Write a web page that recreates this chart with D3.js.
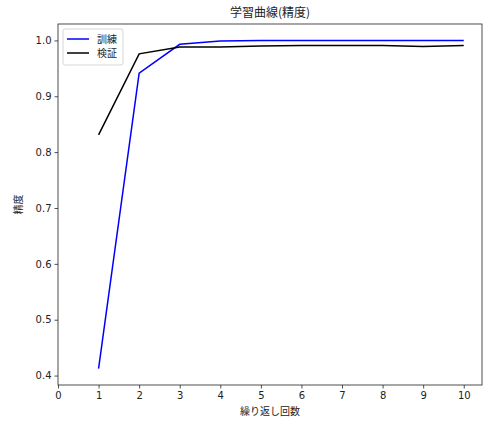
<!DOCTYPE html>
<html><head><meta charset="utf-8">
<script src="https://cdn.jsdelivr.net/npm/d3@7"></script>
<style>body{margin:0;background:#fff}</style>
</head><body>
<svg id="c" width="490" height="423"></svg>
<script>
const epochs = [1,2,3,4,5,6,7,8,9,10];
const trainAcc = [0.4125,0.9415,0.993,0.999,1.0,1.0,1.0,1.0,1.0,1.0];
const valAcc = [0.831,0.976,0.988,0.988,0.990,0.991,0.991,0.991,0.989,0.991];
const xTicks = [0,1,2,3,4,5,6,7,8,9,10];
const yTicks = [0.4,0.5,0.6,0.7,0.8,0.9,1.0];
const seriesNames = ["訓練","検証"];
const seriesColors = ["#0000ff","#000000"];

const svg = d3.select("#c");
const L=58, R=482, T=24, B=385;
const x = d3.scaleLinear().domain([0,10.45]).range([L,R]);
const ymin = 0.4125, ymax = 1.0, pad=(ymax-ymin)*0.05;
const y = d3.scaleLinear().domain([ymin-pad, ymax+pad]).range([B,T]);
const cjk = "'Noto Sans CJK JP', sans-serif";
const tickFont = "'DejaVu Sans', sans-serif";

const xa = svg.append("g").attr("transform",`translate(0,${B})`)
  .call(d3.axisBottom(x).tickValues(xTicks).tickFormat(d3.format("d")).tickSize(3.5).tickPadding(3));
const ya = svg.append("g").attr("transform",`translate(${L},0)`)
  .call(d3.axisLeft(y).tickValues(yTicks).tickFormat(d3.format(".1f")).tickSize(3.5).tickPadding(3));
[xa,ya].forEach(a=>{
  a.select(".domain").remove();
  a.selectAll("text").attr("font-family",tickFont).attr("font-size",10).attr("fill","#222");
  a.selectAll("line").attr("stroke","#222").attr("stroke-width",0.8);
});

const line = d3.line().x((d,i)=>x(epochs[i])).y(d=>y(d));
[trainAcc,valAcc].forEach((s,k)=>{
  svg.append("path").datum(s).attr("d",line).attr("fill","none")
    .attr("stroke",seriesColors[k]).attr("stroke-width",1.5);
});

svg.append("rect").attr("x",L).attr("y",T).attr("width",R-L).attr("height",B-T)
  .attr("fill","none").attr("stroke","#222").attr("stroke-width",0.8);

svg.append("text").attr("x",(L+R)/2).attr("y",T-7).attr("text-anchor","middle")
  .attr("font-family",cjk).attr("font-size",12).attr("fill","#222").text("学習曲線(精度)");
svg.append("text").attr("x",(L+R)/2).attr("y",415).attr("text-anchor","middle")
  .attr("font-family",cjk).attr("font-size",10).attr("fill","#222").text("繰り返し回数");
svg.append("text").attr("transform",`translate(22,${(T+B)/2}) rotate(-90)`).attr("text-anchor","middle")
  .attr("font-family",cjk).attr("font-size",10).attr("fill","#222").text("精度");

const lg = svg.append("g");
lg.append("rect").attr("x",63).attr("y",29).attr("width",60).attr("height",36).attr("rx",2)
  .attr("fill","#fff").attr("fill-opacity",0.8).attr("stroke","#ccc").attr("stroke-width",0.8);
seriesNames.forEach((n,k)=>{
  const yy = 39 + k*14;
  lg.append("line").attr("x1",67).attr("x2",89).attr("y1",yy).attr("y2",yy)
    .attr("stroke",seriesColors[k]).attr("stroke-width",1.5);
  lg.append("text").attr("x",97).attr("y",yy+3.5).attr("font-family",cjk).attr("font-size",10)
    .attr("fill","#222").text(n);
});
</script>
</body></html>
